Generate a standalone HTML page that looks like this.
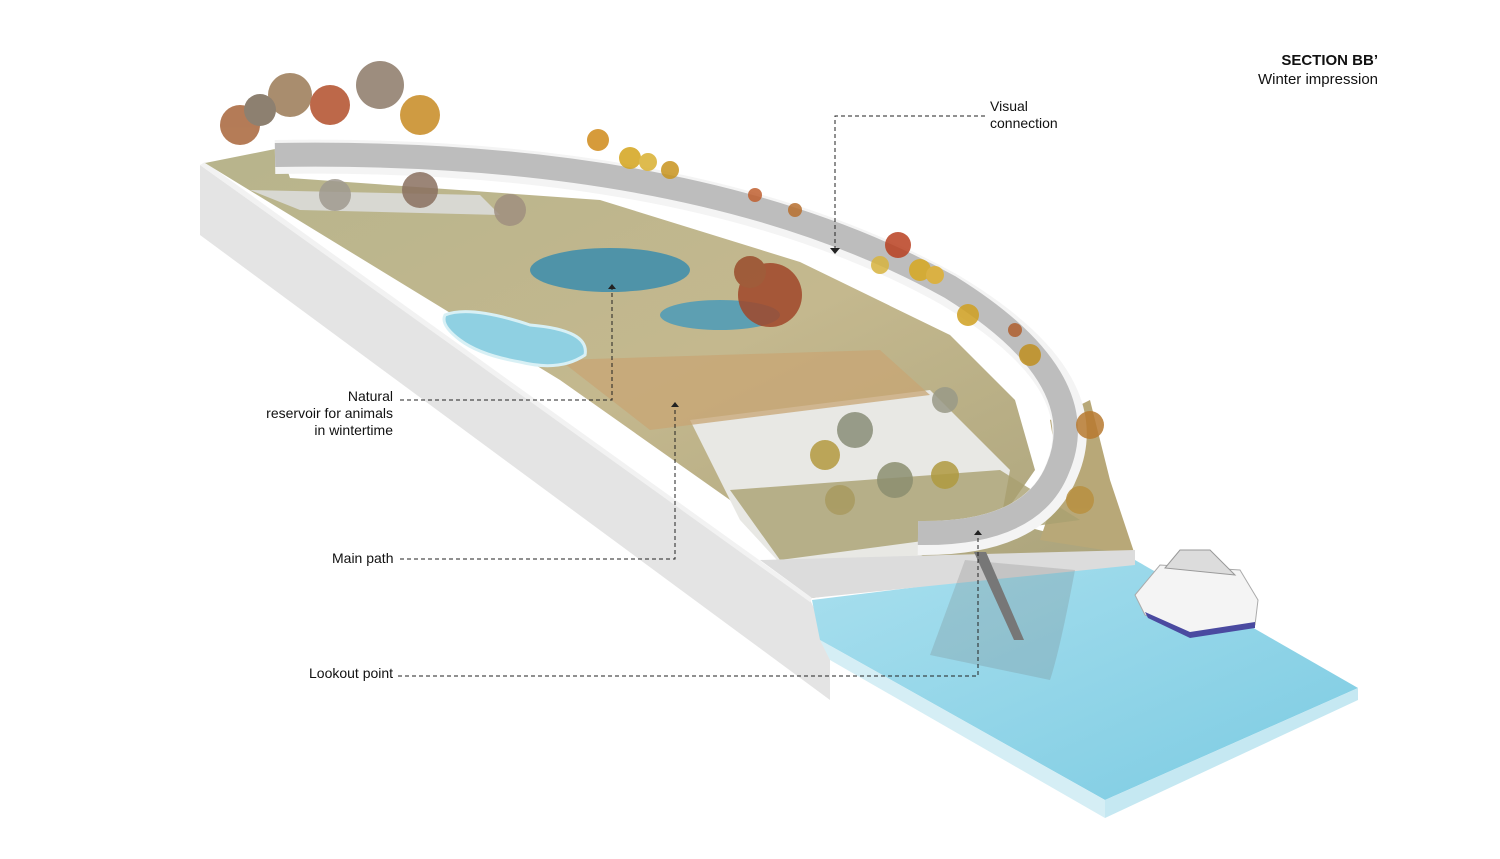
<!DOCTYPE html>
<html><head><meta charset="utf-8"><style>
html,body{margin:0;padding:0;background:#fff;}
body{width:1500px;height:859px;overflow:hidden;position:relative;font-family:"Liberation Sans",Arial,sans-serif;}
.t{position:absolute;font-size:14px;color:#111;line-height:17px;}
</style></head><body>
<svg width="1500" height="859" style="position:absolute;left:0;top:0">
<defs>
<linearGradient id="wat" x1="0" y1="0" x2="1" y2="1"><stop offset="0" stop-color="#a8dfee"/><stop offset="1" stop-color="#7ccbe2"/></linearGradient>
<linearGradient id="ter" x1="0" y1="0" x2="1" y2="1"><stop offset="0" stop-color="#b7b48c"/><stop offset="0.5" stop-color="#c4b88e"/><stop offset="1" stop-color="#a9a27a"/></linearGradient>
</defs>
<!-- slab side -->
<polygon points="200,165 200,235 830,700 830,640 810,600" fill="#e4e4e4"/>
<polygon points="200,165 205,162 812,598 810,602" fill="#f2f2f2"/>
<!-- water -->
<polygon points="812,600 1135,560 1358,688 1105,800 820,640" fill="url(#wat)"/>
<polygon points="1105,800 1358,688 1358,700 1105,818" fill="#c5e8f2"/>
<polygon points="820,640 1105,800 1105,818 830,660" fill="#d5eef5"/>
<!-- terrain -->
<polygon points="205,163 280,148 290,178 600,200 800,262 950,335 1015,400 1035,470 1000,520 1135,555 812,598 730,500 560,380 380,270" fill="url(#ter)"/>
<polygon points="1050,420 1090,400 1110,480 1135,555 1040,540 1060,480" fill="#b8a878"/>
<polygon points="690,420 930,390 1010,470 1000,525 812,598 740,520" fill="#e8e8e4"/>
<polygon points="560,360 880,350 930,395 650,430" fill="#c8a574" opacity="0.75"/>
<polygon points="730,490 1000,470 1080,520 780,560" fill="#a9a070" opacity="0.8"/>
<polygon points="760,560 1135,550 1135,565 812,598" fill="#dcdcdc"/>
<polygon points="250,190 480,195 500,215 300,210" fill="#d8d8d2"/>
<!-- pools -->
<ellipse cx="610" cy="270" rx="80" ry="22" fill="#4f93a8"/>
<ellipse cx="720" cy="315" rx="60" ry="15" fill="#5d9fb2"/>
<path d="M445,315 Q470,305 530,325 Q590,330 585,355 Q560,372 520,362 Q480,355 460,340 Q440,325 445,315Z" fill="#8fd0e2" stroke="#d8f0f5" stroke-width="3"/>
<!-- pillar shadow -->
<path d="M965,560 L1075,570 Q1060,650 1050,680 L930,655 Z" fill="#707070" opacity="0.22"/>
<polygon points="974,552 986,552 1024,640 1014,640" fill="#777"/>
<!-- bridge -->
<path d="M275,157 Q700,150 950,290 Q1100,380 1062,470 Q1035,540 918,538" fill="none" stroke="#f4f4f4" stroke-width="34"/>
<path d="M275,155 Q700,148 950,287 Q1096,378 1058,468 Q1032,535 918,533" fill="none" stroke="#bdbdbd" stroke-width="24"/>
<!-- trees -->
<g opacity="0.85">
<circle cx="240" cy="125" r="20" fill="#a8653a"/><circle cx="290" cy="95" r="22" fill="#9b7a55"/>
<circle cx="330" cy="105" r="20" fill="#b24e2a"/><circle cx="380" cy="85" r="24" fill="#8d7a68"/>
<circle cx="420" cy="115" r="20" fill="#c78a22"/><circle cx="260" cy="110" r="16" fill="#7a6a58"/>
<circle cx="420" cy="190" r="18" fill="#8a7060"/><circle cx="510" cy="210" r="16" fill="#a09080"/>
<circle cx="335" cy="195" r="16" fill="#a09a90"/>
<circle cx="598" cy="140" r="11" fill="#d08a1a"/><circle cx="630" cy="158" r="11" fill="#d4a41c"/><circle cx="648" cy="162" r="9" fill="#d9b030"/>
<circle cx="670" cy="170" r="9" fill="#c8941e"/><circle cx="755" cy="195" r="7" fill="#c06030"/><circle cx="795" cy="210" r="7" fill="#b87030"/>
<circle cx="770" cy="295" r="32" fill="#a0472a"/><circle cx="750" cy="272" r="16" fill="#9a4d2c"/>
<circle cx="898" cy="245" r="13" fill="#b84020"/><circle cx="880" cy="265" r="9" fill="#d8b440"/><circle cx="920" cy="270" r="11" fill="#d8a820"/><circle cx="935" cy="275" r="9" fill="#e0b030"/>
<circle cx="968" cy="315" r="11" fill="#d0a020"/><circle cx="1015" cy="330" r="7" fill="#b06030"/><circle cx="1030" cy="355" r="11" fill="#c09020"/>
<circle cx="1090" cy="425" r="14" fill="#b87a30"/><circle cx="1080" cy="500" r="14" fill="#b89040"/>
<circle cx="945" cy="400" r="13" fill="#9a9a88"/><circle cx="855" cy="430" r="18" fill="#8a8e78"/><circle cx="825" cy="455" r="15" fill="#b49a40"/>
<circle cx="895" cy="480" r="18" fill="#8c8f70"/><circle cx="840" cy="500" r="15" fill="#a99a60"/><circle cx="945" cy="475" r="14" fill="#b09a40"/>
</g>
<!-- boat -->
<path d="M1135,595 L1160,565 L1240,570 L1258,600 L1255,625 L1190,635 L1145,615 Z" fill="#f4f4f4" stroke="#aaa"/>
<path d="M1145,612 L1190,632 L1255,622 L1255,628 L1190,638 L1148,618Z" fill="#4a4aa0"/>
<path d="M1165,568 L1180,550 L1210,550 L1235,575 Z" fill="#dcdcdc" stroke="#999"/>
<!-- dashed leaders -->
<g stroke="#222" stroke-width="1" stroke-dasharray="4,3" fill="none">
<path d="M985,116 L835,116 L835,250"/>
<path d="M400,400 L612,400 L612,287"/>
<path d="M400,559 L675,559 L675,405"/>
<path d="M398,676 L978,676 L978,533"/>
</g>
<g fill="#222">
<path d="M830,248 L840,248 L835,254Z"/>
<path d="M608,289 L616,289 L612,284Z"/>
<path d="M671,407 L679,407 L675,402Z"/>
<path d="M974,535 L982,535 L978,530Z"/>
</g>
</svg>
<div class="t" style="left:1250px;top:52px;width:128px;text-align:right;font-weight:bold;font-size:15px;">SECTION BB’</div>
<div class="t" style="left:1230px;top:71px;width:148px;text-align:right;font-size:15px;">Winter impression</div>
<div class="t" style="left:990px;top:98px;">Visual<br>connection</div>
<div class="t" style="left:240px;top:388px;width:153px;text-align:right;">Natural<br>reservoir for animals<br>in wintertime</div>
<div class="t" style="left:332px;top:550px;">Main path</div>
<div class="t" style="left:309px;top:665px;">Lookout point</div>
</body></html>
